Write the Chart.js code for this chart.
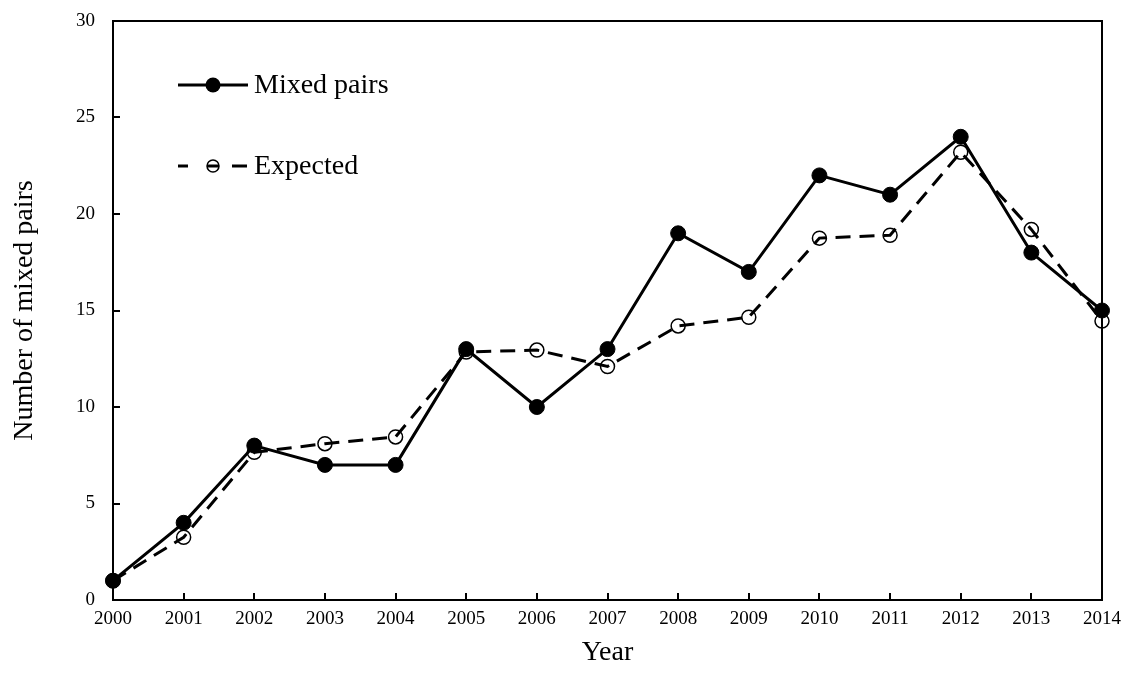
<!DOCTYPE html>
<html>
<head>
<meta charset="utf-8">
<script src="https://cdn.jsdelivr.net/npm/chart.js@4.4.0/dist/chart.umd.min.js"></script>
<style>
html,body{margin:0;padding:0;background:#fff;}
#wrap{width:1125px;height:675px;}
</style>
</head>
<body>
<div id="wrap"><canvas id="c" width="1125" height="675"></canvas></div>
<script>
const years = ['2000','2001','2002','2003','2004','2005','2006','2007','2008','2009','2010','2011','2012','2013','2014'];
const mixedPairs = [1,4,8,7,7,13,10,13,19,17,22,21,24,18,15];
const expected = [1,3.25,7.65,8.1,8.45,12.85,12.95,12.1,14.2,14.65,18.75,18.9,23.2,19.2,14.45];
const yTicks = [0,5,10,15,20,25,30];
const legendLabels = ['Mixed pairs','Expected'];

const FONT = "'Liberation Serif','Times New Roman',serif";

const framePlugin = {
  id:'frame',
  afterDraw(chart){
    const {ctx, chartArea:a, scales} = chart;
    ctx.save();
    ctx.strokeStyle='#000';
    ctx.lineWidth=2;
    ctx.strokeRect(a.left, a.top, a.right-a.left, a.bottom-a.top);
    // inward tick marks
    ctx.beginPath();
    scales.x.ticks.forEach((t,i)=>{
      const px = Math.round(scales.x.getPixelForTick(i));
      ctx.moveTo(px, a.bottom); ctx.lineTo(px, a.bottom-7);
    });
    scales.y.ticks.forEach((t,i)=>{
      const py = Math.round(scales.y.getPixelForValue(t.value));
      ctx.moveTo(a.left, py); ctx.lineTo(a.left+7, py);
    });
    ctx.stroke();
    // legend
    const items = [
      {y: 85, ds: chart.data.datasets[0]},
      {y: 166, ds: chart.data.datasets[1]}
    ];
    items.forEach((it,i)=>{
      ctx.beginPath();
      ctx.lineWidth=3;
      ctx.strokeStyle='#000';
      if(i===0){ctx.moveTo(178,it.y);ctx.lineTo(248,it.y);}
      else{ctx.moveTo(178,it.y);ctx.lineTo(188,it.y);ctx.moveTo(232,it.y);ctx.lineTo(247,it.y);ctx.moveTo(207,it.y);ctx.lineTo(219,it.y);}
      ctx.stroke();
      ctx.beginPath();
      ctx.arc(213,it.y,i===0?7.5:6,0,Math.PI*2);
      if(i===0){ctx.fillStyle='#000';ctx.fill();}
      else{ctx.lineWidth=1.5;ctx.stroke();}
      ctx.fillStyle='#000';
      ctx.font='28px '+FONT;
      ctx.textBaseline='middle';
      ctx.textAlign='left';
      ctx.fillText(legendLabels[i], 254, it.y+1);
    });
    ctx.restore();
  }
};

new Chart(document.getElementById('c'),{
  type:'line',
  data:{
    labels: years,
    datasets:[
      {label:legendLabels[0], data:mixedPairs, borderColor:'#000', backgroundColor:'#000', borderWidth:3,
       pointRadius:7.5, pointBackgroundColor:'#000', pointBorderColor:'#000', pointBorderWidth:1, tension:0, order:1},
      {label:legendLabels[1], data:expected, borderColor:'#000', borderWidth:3, borderDash:[15,9],
       pointRadius:7, pointBackgroundColor:'rgba(0,0,0,0)', pointBorderColor:'#000', pointBorderWidth:1.5, tension:0, order:2}
    ]
  },
  options:{
    responsive:false,
    animation:false,
    layout:{padding:{left:8,right:23,top:21,bottom:0}},
    plugins:{legend:{display:false}, tooltip:{enabled:false}},
    scales:{
      x:{
        type:'category', offset:false,
        grid:{display:false, drawTicks:false},
        border:{display:true,color:'#000',width:2},
        ticks:{color:'#000', font:{family:FONT,size:19}, padding:8, maxRotation:0, autoSkip:false},
        title:{display:true,text:'Year',color:'#000',font:{family:FONT,size:28},padding:{top:0,bottom:6}},
        afterFit(s){s.height=75; s.paddingLeft=0; s.paddingRight=0;}
      },
      y:{
        min:0,max:30,
        afterBuildTicks(s){s.ticks=yTicks.map(v=>({value:v}));},
        grid:{display:false, drawTicks:false},
        border:{display:true,color:'#000',width:2},
        ticks:{color:'#000', font:{family:FONT,size:19}, padding:18},
        title:{display:true,text:'Number of mixed pairs',color:'#000',font:{family:FONT,size:28},padding:{top:0,bottom:0}},
        afterFit(s){s.width=105; s.paddingTop=0; s.paddingBottom=0;}
      }
    }
  },
  plugins:[framePlugin]
});
</script>
</body>
</html>
